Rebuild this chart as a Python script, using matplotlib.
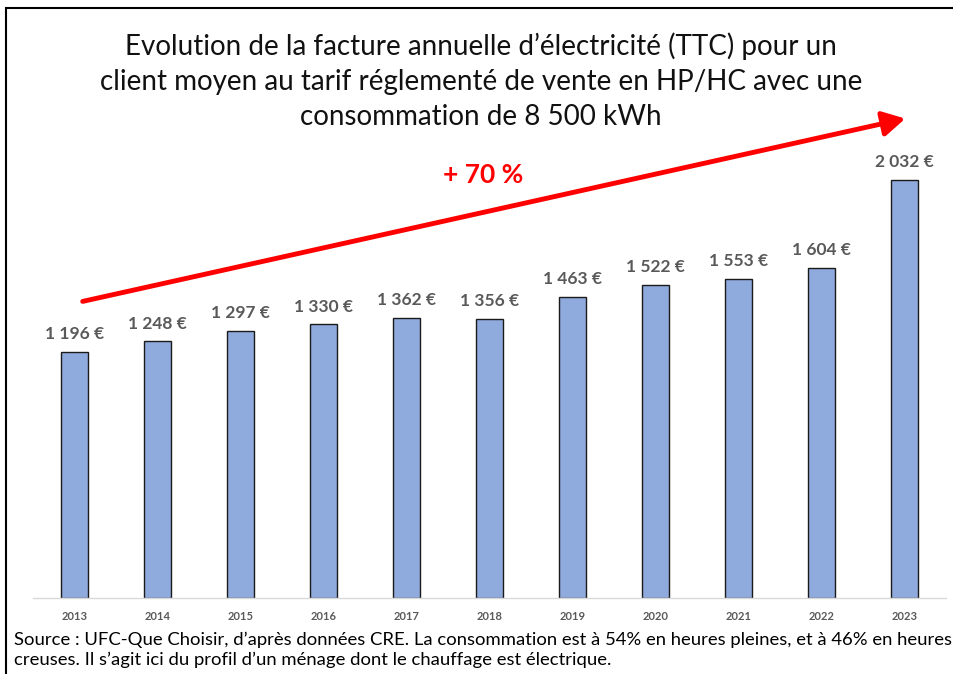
import matplotlib

matplotlib.use("Agg")
import matplotlib.pyplot as plt  # noqa: E402
from matplotlib.patches import FancyArrowPatch, Rectangle  # noqa: E402

years = ["2013", "2014", "2015", "2016", "2017", "2018", "2019", "2020", "2021", "2022", "2023"]
bills = [1196, 1248, 1297, 1330, 1362, 1356, 1463, 1522, 1553, 1604, 2032]
labels = ["1 196 €", "1 248 €", "1 297 €", "1 330 €", "1 362 €", "1 356 €",
          "1 463 €", "1 522 €", "1 553 €", "1 604 €", "2 032 €"]

title = ("Evolution de la facture annuelle d\u2019électricité (TTC) pour un\n"
         "client moyen au tarif réglementé de vente en HP/HC avec une\n"
         "consommation de 8 500 kWh")
source = ("Source : UFC-Que Choisir, d\u2019après données CRE. La consommation est à 54% en heures pleines, et à 46% en heures\n"
          "creuses. Il s\u2019agit ici du profil d\u2019un ménage dont le chauffage est électrique.")

plt.rcParams["font.family"] = ["Lato", "DejaVu Sans"]

W, H = 954, 674
fig = plt.figure(figsize=(W / 100, H / 100), dpi=100)

# frame around the slide
fig.patches.append(Rectangle((6 / W, -0.05), 1.0, 1 - 8 / H + 0.05, transform=fig.transFigure,
                             fill=False, edgecolor="black", linewidth=1.5))

ax = fig.add_axes([33 / W, (H - 598) / H, (946 - 33) / W, (598 - 150) / H])
x = range(len(years))
ax.bar(x, bills, width=0.32, color="#8FAADC", edgecolor="#1a1a1a", linewidth=1.0, zorder=2)
ax.set_xlim(-0.5, len(years) - 0.5)
ax.set_ylim(0, 2178)
for s in ["top", "right", "left"]:
    ax.spines[s].set_visible(False)
ax.spines["bottom"].set_color("#d9d9d9")
ax.spines["bottom"].set_linewidth(1.0)
ax.set_yticks([])
ax.set_xticks(list(x))
ax.set_xticklabels(years, fontsize=8, fontweight="bold", color="#595959")
ax.tick_params(axis="x", length=0, pad=9)

for i, (v, lab) in enumerate(zip(bills, labels)):
    ax.annotate(lab, (i, v), xytext=(0, 7), textcoords="offset points", ha="center", va="bottom",
                fontsize=12.5, fontweight="bold", color="#595959")

fig.text(481 / W, 1 - 81 / H, title, ha="center", va="center", fontsize=20, linespacing=1.42,
         color="#111111")

fig.text(483 / W, 1 - 175 / H, "+ 70 %", ha="center", va="center", fontsize=19, fontweight="bold",
         color="#ff0000")

fig.patches.append(FancyArrowPatch(
    (80 / W, 1 - 302 / H), (908 / W, 1 - 118 / H), transform=fig.transFigure,
    arrowstyle="-|>,head_length=9,head_width=5", mutation_scale=1.5, color="#ff0000",
    linewidth=3.5))

fig.text(14 / W, 1 - 650 / H, source, ha="left", va="center", fontsize=13.3, linespacing=1.32,
         color="black")

fig.savefig("out.png", dpi=100)
